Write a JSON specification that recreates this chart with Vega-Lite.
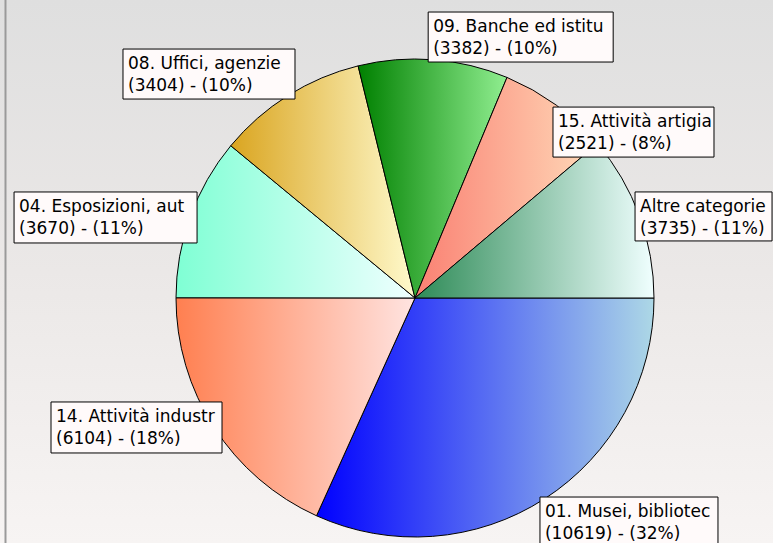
{
  "$schema": "https://vega.github.io/schema/vega-lite/v6.json",
  "width": 773,
  "height": 543,
  "autosize": {"type": "none"},
  "padding": 0,
  "config": {"view": {"stroke": null}},
  "data": {
    "values": [
      {"order": 1, "name": "01. Musei, bibliotec", "value": 10619, "label": "01. Musei, bibliotec\n(10619) - (32%)"},
      {"order": 2, "name": "14. Attività industr", "value": 6104, "label": "14. Attività industr\n(6104) - (18%)"},
      {"order": 3, "name": "04. Esposizioni, aut", "value": 3670, "label": "04. Esposizioni, aut\n(3670) - (11%)"},
      {"order": 4, "name": "08. Uffici, agenzie", "value": 3404, "label": "08. Uffici, agenzie\n(3404) - (10%)"},
      {"order": 5, "name": "09. Banche ed istitu", "value": 3382, "label": "09. Banche ed istitu\n(3382) - (10%)"},
      {"order": 6, "name": "15. Attività artigia", "value": 2521, "label": "15. Attività artigia\n(2521) - (8%)"},
      {"order": 7, "name": "Altre categorie", "value": 3735, "label": "Altre categorie\n(3735) - (11%)"}
    ]
  },
  "transform": [
    {"stack": "value", "groupby": [], "sort": [{"field": "order", "order": "ascending"}], "as": ["v0", "v1"], "offset": "normalize"},
    {"calculate": "cos(PI*(datum.v0+datum.v1))", "as": "ax"},
    {"calculate": "-sin(PI*(datum.v0+datum.v1))", "as": "ay"}
  ],
  "layer": [
    {
      "data": {"values": [{}]},
      "mark": {
        "type": "rect",
        "fill": {"gradient": "linear", "x1": 0, "y1": 0, "x2": 0, "y2": 1,
          "stops": [{"offset": 0, "color": "#dfdfdf"}, {"offset": 0.5, "color": "#ebe8e7"}, {"offset": 1, "color": "#f7f4f3"}]}
      },
      "encoding": {}
    },
    {
      "data": {"values": [{}]},
      "mark": {"type": "rule", "color": "#9a9a9a", "strokeWidth": 2},
      "encoding": {
        "x": {"datum": -1.7134, "type": "quantitative", "scale": {"type": "linear", "domain": [-1.7364, 1.4979], "nice": false, "zero": false}, "axis": null}
      }
    },
    {
      "encoding": {
        "x": {"datum": 0, "type": "quantitative", "scale": {"type": "linear", "domain": [-1.7364, 1.4979], "nice": false, "zero": false}, "axis": null},
        "y": {"datum": 0, "type": "quantitative", "scale": {"type": "linear", "domain": [-1.0251, 1.2469], "nice": false, "zero": false}, "axis": null},
        "theta": {"field": "v0", "type": "quantitative", "scale": {"domain": [0, 1], "range": [1.5707963, 7.8539816]}},
        "theta2": {"field": "v1"}
      },
      "layer": [
        {"transform": [{"filter": "datum.order == 1"}],
         "mark": {"type": "arc", "radius": 239, "stroke": "#000000", "strokeWidth": 1,
           "fill": {"gradient": "linear", "x1": 0, "y1": 0, "x2": 1, "y2": 0, "stops": [{"offset": 0, "color": "#0000ff"}, {"offset": 1, "color": "#add8e6"}]}}},
        {"transform": [{"filter": "datum.order == 2"}],
         "mark": {"type": "arc", "radius": 239, "stroke": "#000000", "strokeWidth": 1,
           "fill": {"gradient": "linear", "x1": 0, "y1": 0, "x2": 1, "y2": 0, "stops": [{"offset": 0, "color": "#ff7f50"}, {"offset": 1, "color": "#ffe4e1"}]}}},
        {"transform": [{"filter": "datum.order == 3"}],
         "mark": {"type": "arc", "radius": 239, "stroke": "#000000", "strokeWidth": 1,
           "fill": {"gradient": "linear", "x1": 0, "y1": 0, "x2": 1, "y2": 0, "stops": [{"offset": 0, "color": "#7fffd4"}, {"offset": 1, "color": "#f0ffff"}]}}},
        {"transform": [{"filter": "datum.order == 4"}],
         "mark": {"type": "arc", "radius": 239, "stroke": "#000000", "strokeWidth": 1,
           "fill": {"gradient": "linear", "x1": 0, "y1": 0, "x2": 1, "y2": 0, "stops": [{"offset": 0, "color": "#daa520"}, {"offset": 1, "color": "#fffacd"}]}}},
        {"transform": [{"filter": "datum.order == 5"}],
         "mark": {"type": "arc", "radius": 239, "stroke": "#000000", "strokeWidth": 1,
           "fill": {"gradient": "linear", "x1": 0, "y1": 0, "x2": 1, "y2": 0, "stops": [{"offset": 0, "color": "#008000"}, {"offset": 1, "color": "#90ee90"}]}}},
        {"transform": [{"filter": "datum.order == 6"}],
         "mark": {"type": "arc", "radius": 239, "stroke": "#000000", "strokeWidth": 1,
           "fill": {"gradient": "linear", "x1": 0, "y1": 0, "x2": 1, "y2": 0, "stops": [{"offset": 0, "color": "#fa8072"}, {"offset": 1, "color": "#ffdab9"}]}}},
        {"transform": [{"filter": "datum.order == 7"}],
         "mark": {"type": "arc", "radius": 239, "stroke": "#000000", "strokeWidth": 1,
           "fill": {"gradient": "linear", "x1": 0, "y1": 0, "x2": 1, "y2": 0, "stops": [{"offset": 0, "color": "#2e8b57"}, {"offset": 1, "color": "#f0ffff"}]}}}
      ]
    },
    {
      "encoding": {
        "x": {"field": "ax", "type": "quantitative", "scale": {"type": "linear", "domain": [-1.7364, 1.4979], "nice": false, "zero": false}, "axis": null},
        "y": {"field": "ay", "type": "quantitative", "scale": {"type": "linear", "domain": [-1.0251, 1.2469], "nice": false, "zero": false}, "axis": null},
        "text": {"field": "label", "type": "nominal"}
      },
      "layer": [
        {"transform": [{"filter": "datum.order == 1"}], "layer": [
          {"mark": {"type": "rect", "fill": "#fffafa", "stroke": "#000000", "strokeWidth": 1, "xOffset": -4.6, "x2Offset": 173.4, "yOffset": -1.8, "y2Offset": 48.2},
           "encoding": {"x2": {"field": "ax"}, "y2": {"field": "ay"}, "text": null}},
          {"mark": {"type": "text", "font": "DejaVu Sans", "fontSize": 17, "color": "#000000", "align": "left", "baseline": "alphabetic", "lineBreak": "\n", "lineHeight": 22.6, "dx": 0.4, "dy": 17.9}}
        ]},
        {"transform": [{"filter": "datum.order == 2"}], "layer": [
          {"mark": {"type": "rect", "fill": "#fffafa", "stroke": "#000000", "strokeWidth": 1, "xOffset": -163.1, "x2Offset": 7.9, "yOffset": -25.5, "y2Offset": 25.5},
           "encoding": {"x2": {"field": "ax"}, "y2": {"field": "ay"}, "text": null}},
          {"mark": {"type": "text", "font": "DejaVu Sans", "fontSize": 17, "color": "#000000", "align": "left", "baseline": "alphabetic", "lineBreak": "\n", "lineHeight": 22.6, "dx": -158.1, "dy": -5.8}}
        ]},
        {"transform": [{"filter": "datum.order == 3"}], "layer": [
          {"mark": {"type": "rect", "fill": "#fffafa", "stroke": "#000000", "strokeWidth": 1, "xOffset": -176.1, "x2Offset": 6.9, "yOffset": -25, "y2Offset": 26},
           "encoding": {"x2": {"field": "ax"}, "y2": {"field": "ay"}, "text": null}},
          {"mark": {"type": "text", "font": "DejaVu Sans", "fontSize": 17, "color": "#000000", "align": "left", "baseline": "alphabetic", "lineBreak": "\n", "lineHeight": 22.6, "dx": -171.1, "dy": -5.3}}
        ]},
        {"transform": [{"filter": "datum.order == 4"}], "layer": [
          {"mark": {"type": "rect", "fill": "#fffafa", "stroke": "#000000", "strokeWidth": 1, "xOffset": -165, "x2Offset": 7, "yOffset": -46.5, "y2Offset": 3.5},
           "encoding": {"x2": {"field": "ax"}, "y2": {"field": "ay"}, "text": null}},
          {"mark": {"type": "text", "font": "DejaVu Sans", "fontSize": 17, "color": "#000000", "align": "left", "baseline": "alphabetic", "lineBreak": "\n", "lineHeight": 22.6, "dx": -160, "dy": -26.8}}
        ]},
        {"transform": [{"filter": "datum.order == 5"}], "layer": [
          {"mark": {"type": "rect", "fill": "#fffafa", "stroke": "#000000", "strokeWidth": 1, "xOffset": -5.3, "x2Offset": 179.7, "yOffset": -47.7, "y2Offset": 2.3},
           "encoding": {"x2": {"field": "ax"}, "y2": {"field": "ay"}, "text": null}},
          {"mark": {"type": "text", "font": "DejaVu Sans", "fontSize": 17, "color": "#000000", "align": "left", "baseline": "alphabetic", "lineBreak": "\n", "lineHeight": 22.6, "dx": -0.3, "dy": -28}}
        ]},
        {"transform": [{"filter": "datum.order == 6"}], "layer": [
          {"mark": {"type": "rect", "fill": "#fffafa", "stroke": "#000000", "strokeWidth": 1, "xOffset": -3.2, "x2Offset": 157.8, "yOffset": 1.9, "y2Offset": 51.9},
           "encoding": {"x2": {"field": "ax"}, "y2": {"field": "ay"}, "text": null}},
          {"mark": {"type": "text", "font": "DejaVu Sans", "fontSize": 17, "color": "#000000", "align": "left", "baseline": "alphabetic", "lineBreak": "\n", "lineHeight": 22.6, "dx": 1.8, "dy": 21.6}}
        ]},
        {"transform": [{"filter": "datum.order == 7"}], "layer": [
          {"mark": {"type": "rect", "fill": "#fffafa", "stroke": "#000000", "strokeWidth": 1, "xOffset": -4.4, "x2Offset": 132.6, "yOffset": -23.9, "y2Offset": 25.1},
           "encoding": {"x2": {"field": "ax"}, "y2": {"field": "ay"}, "text": null}},
          {"mark": {"type": "text", "font": "DejaVu Sans", "fontSize": 17, "color": "#000000", "align": "left", "baseline": "alphabetic", "lineBreak": "\n", "lineHeight": 22.6, "dx": 0.6, "dy": -4.2}}
        ]}
      ]
    }
  ]
}
